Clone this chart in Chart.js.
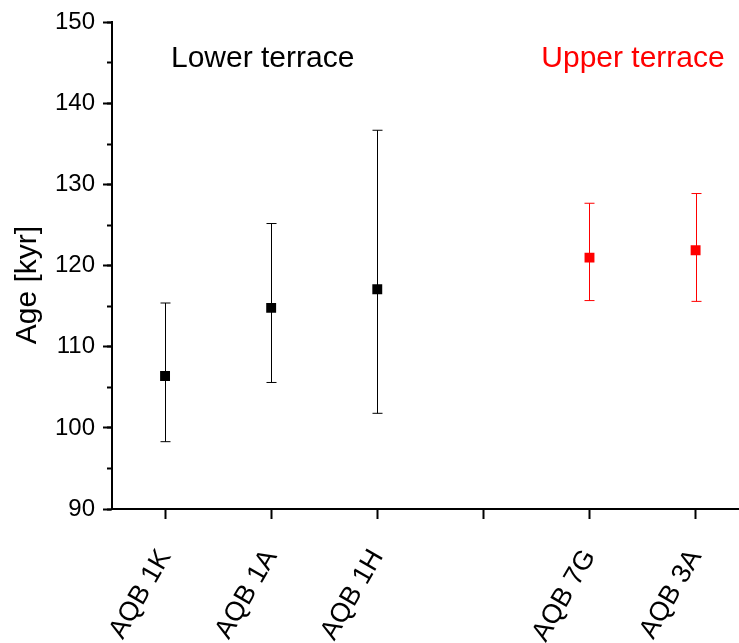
<!DOCTYPE html>
<html>
<head>
<meta charset="utf-8">
<script src="https://cdn.jsdelivr.net/npm/chart.js@4.4.1/dist/chart.umd.min.js"></script>
<style>
  html, body { margin: 0; padding: 0; background: #fff; }
  #wrap { width: 739px; height: 643px; }
</style>
</head>
<body>
<div id="wrap"><canvas id="chart" width="739" height="643"></canvas></div>
<script>
// sample names along the x axis (slot 4 is an empty gap)
const categories = ['AQB 1K', 'AQB 1A', 'AQB 1H', '', 'AQB 7G', 'AQB 3A'];

// lower terrace samples (x slots 1-3)
const lowerX = [1, 2, 3];
const lowerAge = [106.4, 114.8, 117.1];
const lowerMin = [98.3, 105.6, 101.8];
const lowerMax = [115.4, 125.2, 136.7];

// upper terrace samples (x slots 5-6)
const upperX = [5, 6];
const upperAge = [121.0, 121.9];
const upperMin = [115.7, 115.6];
const upperMax = [127.7, 128.9];

const yTicks = [90, 100, 110, 120, 130, 140, 150];

const FONT = '"Liberation Sans", Arial, sans-serif';

// draws the vertical error bars with caps, behind the square markers
const errorBars = {
    id: 'errorBars',
    beforeDatasetsDraw(chart) {
        const { ctx, scales: { x, y } } = chart;
        ctx.save();
        chart.data.datasets.forEach(ds => {
            ctx.strokeStyle = ds.backgroundColor;
            ctx.lineWidth = 1;
            ds.data.forEach((p, i) => {
                const px = Math.round(x.getPixelForValue(p.x)) + 0.5;
                const top = y.getPixelForValue(ds.errHigh[i]);
                const bot = y.getPixelForValue(ds.errLow[i]);
                ctx.beginPath();
                ctx.moveTo(px, top);
                ctx.lineTo(px, bot);
                ctx.moveTo(px - 5, top);
                ctx.lineTo(px + 5, top);
                ctx.moveTo(px - 5, bot);
                ctx.lineTo(px + 5, bot);
                ctx.stroke();
            });
        });
        ctx.restore();
    }
};

// group labels, the y axis title, and the x axis line running on to the edge
const labelsPlugin = {
    id: 'labelsPlugin',
    afterDraw(chart) {
        const { ctx, chartArea, scales: { x, y } } = chart;
        ctx.save();
        ctx.strokeStyle = '#000';
        ctx.lineWidth = 2;
        ctx.beginPath();
        ctx.moveTo(chartArea.right - 1, chartArea.bottom);
        ctx.lineTo(chart.width, chartArea.bottom);
        ctx.stroke();

        ctx.textAlign = 'center';
        ctx.textBaseline = 'middle';
        ctx.font = '30px ' + FONT;
        ctx.fillStyle = '#000';
        ctx.fillText('Lower terrace', x.getPixelForValue(1.92), y.getPixelForValue(145.5));
        ctx.fillStyle = '#ff0000';
        ctx.fillText('Upper terrace', x.getPixelForValue(5.41), y.getPixelForValue(145.5));

        ctx.translate(28, 285);
        ctx.rotate(-Math.PI / 2);
        ctx.font = '30px ' + FONT;
        ctx.fillStyle = '#000';
        ctx.fillText('Age [kyr]', 0, 0);
        ctx.restore();
    }
};

const toPoints = (xs, ys) => xs.map((v, i) => ({ x: v, y: ys[i] }));

new Chart(document.getElementById('chart'), {
    type: 'scatter',
    data: {
        datasets: [
            {
                label: 'Lower terrace',
                data: toPoints(lowerX, lowerAge),
                errLow: lowerMin,
                errHigh: lowerMax,
                backgroundColor: '#000000',
                borderWidth: 0,
                pointStyle: 'rect',
                pointRadius: 7
            },
            {
                label: 'Upper terrace',
                data: toPoints(upperX, upperAge),
                errLow: upperMin,
                errHigh: upperMax,
                backgroundColor: '#ff0000',
                borderWidth: 0,
                pointStyle: 'rect',
                pointRadius: 7
            }
        ]
    },
    options: {
        responsive: false,
        animation: false,
        devicePixelRatio: 1,
        layout: { padding: { top: 21, right: 0, left: 0, bottom: 0 } },
        plugins: {
            legend: { display: false },
            tooltip: { enabled: false }
        },
        scales: {
            x: {
                type: 'linear',
                position: 'bottom',
                min: 0.5,
                max: 6.343,
                afterBuildTicks: (scale) => {
                    scale.ticks = categories.map((c, i) => ({ value: i + 1 }));
                },
                afterFit: (scale) => {
                    scale.height = 134;
                    scale.paddingLeft = 0;
                    scale.paddingRight = 0;
                },
                ticks: {
                    autoSkip: false,
                    minRotation: 60,
                    maxRotation: 60,
                    padding: 25,
                    color: '#000',
                    font: { family: FONT, size: 27 },
                    callback: (v) => categories[v - 1] ?? ''
                },
                grid: {
                    drawOnChartArea: false,
                    tickLength: 10,
                    tickWidth: 2,
                    tickColor: '#000'
                },
                border: { color: '#000', width: 2 }
            },
            y: {
                position: 'left',
                weight: 1,
                min: 90,
                max: 150,
                afterBuildTicks: (scale) => {
                    scale.ticks = yTicks.map(v => ({ value: v }));
                },
                afterFit: (scale) => { scale.width = 112; },
                ticks: {
                    padding: 8,
                    color: '#000',
                    font: { family: FONT, size: 24 }
                },
                grid: {
                    drawOnChartArea: false,
                    tickLength: 9,
                    tickWidth: 2,
                    tickColor: '#000'
                },
                border: { color: '#000', width: 2 }
            },
            yMinor: {
                position: 'left',
                weight: 0,
                min: 90,
                max: 150,
                ticks: { display: false, stepSize: 5 },
                afterFit: (scale) => { scale.width = 0; },
                grid: {
                    drawOnChartArea: false,
                    tickLength: 5,
                    tickWidth: 2,
                    tickColor: '#000'
                },
                border: { display: false }
            }
        }
    },
    plugins: [errorBars, labelsPlugin]
});
</script>
</body>
</html>
